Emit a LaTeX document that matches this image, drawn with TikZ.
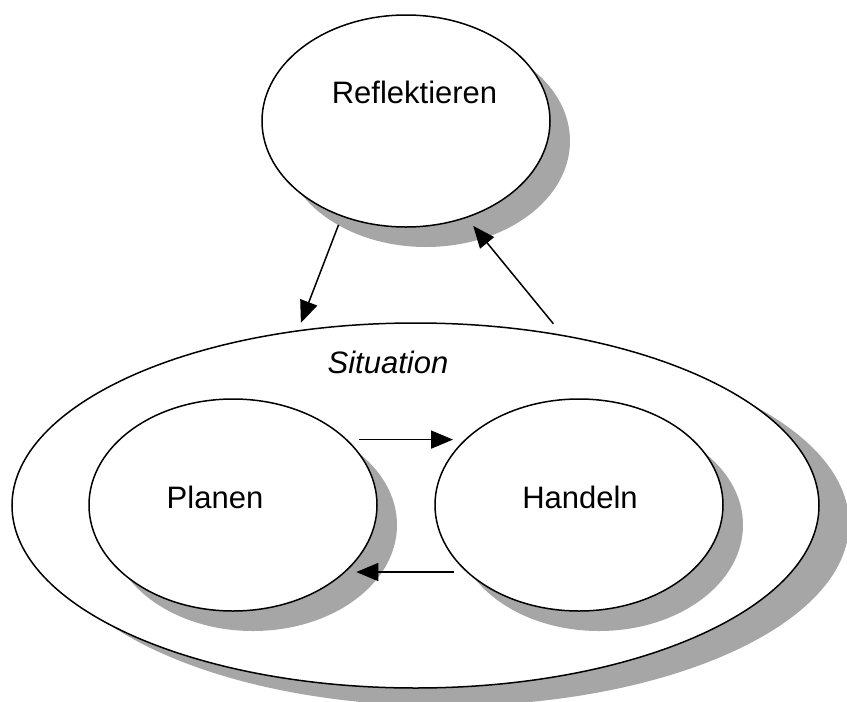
\documentclass[tikz,border=0pt]{standalone}
\usepackage{fontspec}
\setmainfont{Liberation Sans}
\usetikzlibrary{shapes.geometric,arrows.meta,shadows}
\definecolor{shgray}{RGB}{166,166,166}
\begin{document}
\begin{tikzpicture}[x=1pt,y=-1pt,
  bubble/.style={ellipse,draw=black,line width=1.5pt,fill=white,inner sep=0pt,outer sep=0pt},
  shad/.style={drop shadow={shadow xshift=#1,shadow yshift=-20pt,fill=shgray,opacity=1}},
  shadS/.style={drop shadow={shadow xshift=30pt,shadow yshift=-18pt,fill=shgray,opacity=1}},
  lbl/.style={font=\fontsize{31}{37}\selectfont,anchor=base,inner sep=0pt},
  arr/.style={line width=1.5pt,-{Triangle[length=22pt,width=18pt]}}]
\useasboundingbox (0,0) rectangle (847,702);
\node[bubble,shadS,minimum width=807pt,minimum height=365pt] (S) at (415.5,505.5) {};
\node[bubble,shad=20pt,minimum width=288pt,minimum height=212pt] (P) at (233,505) {};
\node[bubble,shad=20pt,minimum width=288pt,minimum height=212pt] (H) at (579,505) {};
\node[bubble,shad=20pt,minimum width=288pt,minimum height=212pt] (R) at (406,121) {};
\node[lbl] (tR) at (414.5,103) {Reflektieren};
\node[lbl] (tP) at (215,508) {Planen};
\node[lbl] (tH) at (580,508) {Handeln};
\node[lbl,font=\fontsize{31}{37}\selectfont\itshape] (tS) at (388,373) {Situation};
\draw[arr,shorten <=12.4pt,shorten >=14.4pt] (P.30.98) -- (H.149.02 |- P.30.98);
\draw[arr,shorten <=13.5pt,shorten >=13.5pt] (H.211.6) -- (P.328.4 |- H.211.6);
\draw[arr,shorten <=9.6pt,shorten >=8.7pt] (R.236.3) -- (S.124.2);
\draw[arr,shorten <=15.4pt,shorten >=11.1pt] (S.49.8) -- (R.302);
\end{tikzpicture}
\end{document}
